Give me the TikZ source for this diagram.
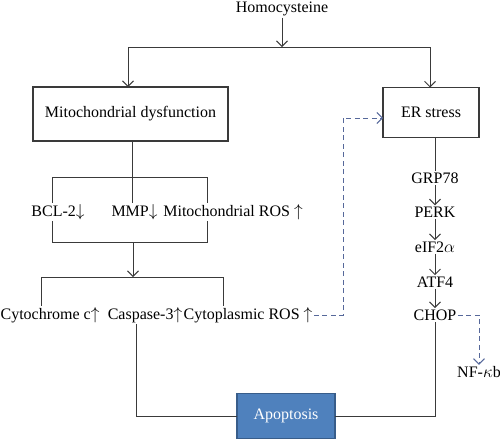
\documentclass[tikz,border=0pt]{standalone}
\usepackage{fontspec}
\setmainfont{Liberation Serif}
\usetikzlibrary{arrows.meta}
\definecolor{lncol}{HTML}{3A3A3A}
\definecolor{dshcol}{HTML}{56689A}
\definecolor{apfill}{HTML}{4F81BD}
\definecolor{apdraw}{HTML}{385D8A}
\begin{document}
\begin{tikzpicture}[x=1pt,y=-1pt,
  every node/.style={font=\fontsize{16}{19}\selectfont, text=black, inner sep=0pt, outer sep=1.5pt},
  ln/.style={draw=lncol, line width=1pt},
  arr/.style={ln, -{Straight Barb[length=5.5pt,width=11pt]}},
  darr/.style={draw=dshcol, line width=1pt, dash pattern=on 5pt off 3.5pt, -{Straight Barb[length=5.5pt,width=11pt]}},
  boxx/.style={draw=lncol, line width=1.2pt, fill=white, outer sep=0pt},
  apbox/.style={draw=apdraw, line width=1.5pt, fill=apfill, text=white, outer sep=0pt},
]
\useasboundingbox (0,0) rectangle (500,440);

% top
\node (homo) at (282,9) {Homocysteine};
\coordinate (split) at (282,47);
\coordinate (sl) at (128,47);
\coordinate (sr) at (430,47);
\node[boxx, minimum width=195pt, minimum height=54pt] (mito) at (130.5,114) {Mitochondrial dysfunction};
\node[boxx, minimum width=96pt, minimum height=50pt] (er) at (431,112.5) {ER stress};
\draw[arr] (homo) -- (split);
\draw[ln] (sl) -- (sr);
\draw[arr] (sl) -- (sl |- mito.north);
\draw[arr] (sr) -- (sr |- er.north);

% group 1
\node (bcl) at (58,212) {BCL-2$\downarrow$};
\node (mmp) at (134.5,212) {MMP$\downarrow$};
\node (mros) at (233,212) {Mitochondrial ROS $\uparrow$};
\coordinate (mx) at (132,0);
\coordinate (g1l) at (52,177);
\coordinate (g1r) at (207,177);
\coordinate (g1b) at (133,242);
\coordinate (g2t) at (133,277);
\draw[ln] (mito.south -| mx) -- (mmp.north -| mx);
\draw[ln] (bcl.north -| g1l) -- (g1l) -- (g1r) -- (mros.north -| g1r);
\draw[ln] (bcl.south -| g1l) -- (g1l |- g1b) -- (g1r |- g1b) -- (mros.south -| g1r);
\draw[arr] (g1b) -- (g2t);

% group 2
\node (cyt) at (50,315) {Cytochrome c$\uparrow$};
\node (casp) at (145,315) {Caspase-3$\uparrow$};
\node (cros) at (248,315) {Cytoplasmic ROS $\uparrow$};
\coordinate (g2l) at (41,277);
\coordinate (g2r) at (223,277);
\draw[ln] (cyt.north -| g2l) -- (g2l) -- (g2r) -- (cros.north -| g2r);

% ER pathway
\node (grp) at (435,178) {GRP78};
\node (perk) at (435,212) {PERK};
\node (eif) at (435,247) {eIF2$\alpha$};
\node (atf) at (435,282) {ATF4};
\node (chop) at (435,315) {CHOP};
\node (nf) at (479,372) {NF-$\kappa$b};
\draw[ln] (er.south -| grp) -- (grp);
\draw[arr] (grp) -- (perk);
\draw[arr] (perk) -- (eif);
\draw[arr] (eif) -- (atf);
\draw[arr] (atf) -- (chop);

% apoptosis
\node[apbox, minimum width=98pt, minimum height=45pt] (apop) at (286,416) {Apoptosis};
\coordinate (cx) at (136,0);
\draw[ln] (casp.south -| cx) |- (apop.west);
\draw[ln] (apop.east) -| (chop.south);

% dashed
\coordinate (d1) at (343,118);
\draw[darr] (cros.east) -| (d1) -- (er.west |- d1);
\draw[darr] (chop.east) -| (nf.north);
\end{tikzpicture}
\end{document}
